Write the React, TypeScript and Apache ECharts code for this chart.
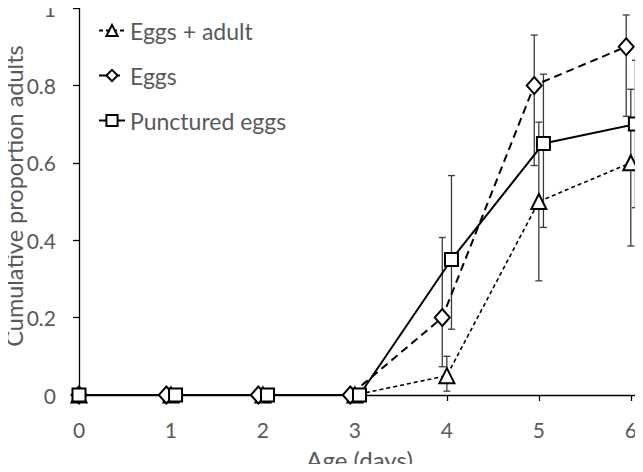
import React, { useEffect, useRef } from "react";
import * as echarts from "echarts";

const ages = [0, 1, 2, 3, 4, 5, 6];
const seriesNames = ["Eggs + adult", "Eggs", "Punctured eggs"];
const xOffsets = [0, -0.05, 0.05];
const eggsAdult = [0, 0, 0, 0, 0.05, 0.5, 0.6];
const eggsAdultLow = [null, null, null, null, 0.01, 0.295, 0.385];
const eggsAdultHigh = [null, null, null, null, 0.1, 0.705, 0.79];
const eggs = [0, 0, 0, 0, 0.2, 0.8, 0.9];
const eggsLow = [null, null, null, null, 0.073, 0.593, 0.72];
const eggsHigh = [null, null, null, null, 0.407, 0.93, 0.982];
const punctured = [0, 0, 0, 0, 0.35, 0.65, 0.7];
const puncturedLow = [null, null, null, null, 0.17, 0.433, 0.484];
const puncturedHigh = [null, null, null, null, 0.567, 0.829, 0.865];
const xTicks = [0, 1, 2, 3, 4, 5, 6];
const xTitle = "Age (days)";
const yTitle = "Cumulative proportion adults";

const FONT = "Lato";
const GRAY = "#595959";

function pts(vals: number[], off: number) {
  return ages.map((a, i) => [a === 0 ? a : a + off, vals[i]]);
}
function bars(lo: (number | null)[], hi: (number | null)[], off: number) {
  const out: number[][] = [];
  ages.forEach((a, i) => {
    if (lo[i] != null && hi[i] != null) out.push([a === 0 ? a : a + off, lo[i] as number, hi[i] as number]);
  });
  return out;
}

function errSeries(data: number[][]) {
  return {
    type: "custom",
    z: 1,
    silent: true,
    data,
    renderItem: (params: any, api: any) => {
      const x = api.value(0);
      const p1 = api.coord([x, api.value(1)]);
      const p2 = api.coord([x, api.value(2)]);
      const w = 3.5;
      const style = { stroke: "#3a3a3a", lineWidth: 1.3 };
      return {
        type: "group",
        children: [
          { type: "line", shape: { x1: p1[0], y1: p1[1], x2: p2[0], y2: p2[1] }, style },
          { type: "line", shape: { x1: p1[0] - w, y1: p1[1], x2: p1[0] + w, y2: p1[1] }, style },
          { type: "line", shape: { x1: p2[0] - w, y1: p2[1], x2: p2[0] + w, y2: p2[1] }, style },
        ],
      };
    },
  };
}

export default function App() {
  const ref = useRef<HTMLDivElement>(null);
  useEffect(() => {
    const chart = echarts.init(ref.current!, null, { renderer: "svg" });
    const marker = { color: "#ffffff", borderColor: "#000000", borderWidth: 2 };
    chart.setOption({
      animation: false,
      textStyle: { fontFamily: FONT },
      grid: { left: 79, right: 3, top: 8, bottom: 77, containLabel: false, outerBoundsMode: "none" },
      graphic: [
        {
          type: "text",
          x: 14,
          y: 196,
          rotation: Math.PI / 2,
          style: {
            text: yTitle,
            fontFamily: FONT,
            fontSize: 23.5,
            fill: GRAY,
            align: "center",
            verticalAlign: "middle",
          },
        },
      ],
      legend: {
        orient: "vertical",
        left: 93,
        top: 14,
        itemWidth: 26,
        itemHeight: 14,
        itemGap: 22,
        data: seriesNames,
        textStyle: { fontFamily: FONT, fontSize: 23, color: GRAY, padding: [0, 0, 0, 0] },
      },
      xAxis: {
        type: "value",
        min: 0,
        max: 6.1,
        interval: 1,
        name: xTitle,
        nameLocation: "middle",
        nameGap: 52,
        nameTextStyle: { fontFamily: FONT, fontSize: 24, color: GRAY },
        axisLine: { lineStyle: { color: "#000000", width: 1.3 } },
        axisTick: { show: true, length: 6, customValues: xTicks, lineStyle: { color: "#000000", width: 1.3 } },
        axisLabel: { customValues: xTicks, margin: 24, fontFamily: FONT, fontSize: 21, color: GRAY },
        splitLine: { show: false },
      },
      yAxis: {
        type: "value",
        min: 0,
        max: 1,
        interval: 0.2,
        axisLine: { show: true, lineStyle: { color: "#000000", width: 1.3 } },
        axisTick: { show: true, length: 6, lineStyle: { color: "#000000", width: 1.3 } },
        axisLabel: { margin: 23, fontFamily: FONT, fontSize: 21, lineHeight: 16, color: GRAY },
        splitLine: { show: false },
      },
      series: [
        errSeries(bars(eggsAdultLow, eggsAdultHigh, xOffsets[0])),
        errSeries(bars(eggsLow, eggsHigh, xOffsets[1])),
        errSeries(bars(puncturedLow, puncturedHigh, xOffsets[2])),
        {
          name: seriesNames[0],
          type: "line",
          z: 3,
          data: pts(eggsAdult, xOffsets[0]),
          symbol: "triangle",
          symbolSize: 15,
          showAllSymbol: true,
          lineStyle: { color: "#000000", width: 1.6, type: [4, 3] },
          itemStyle: marker,
        },
        {
          name: seriesNames[1],
          type: "line",
          z: 3,
          data: pts(eggs, xOffsets[1]),
          symbol: "diamond",
          symbolSize: [15, 17],
          showAllSymbol: true,
          lineStyle: { color: "#000000", width: 2, type: [8, 5] },
          itemStyle: marker,
        },
        {
          name: seriesNames[2],
          type: "line",
          z: 3,
          data: pts(punctured, xOffsets[2]),
          symbol: "rect",
          symbolSize: 13,
          showAllSymbol: true,
          lineStyle: { color: "#000000", width: 2 },
          itemStyle: marker,
        },
      ],
    });
    return () => chart.dispose();
  }, []);
  return <div ref={ref} style={{ width: 643, height: 472, margin: -8 }} />;
}
